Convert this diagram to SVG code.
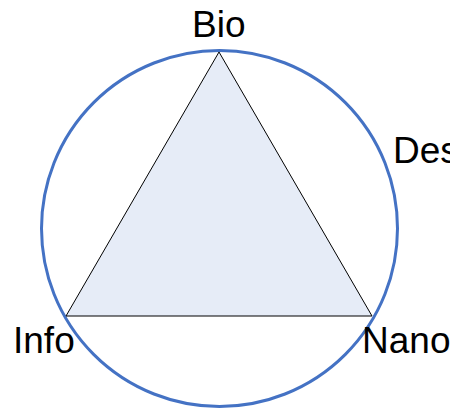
<svg xmlns="http://www.w3.org/2000/svg" width="450" height="408" viewBox="0 0 450 408">
  <style>
    .lbl { font-family: "Liberation Sans", Arial, sans-serif; font-size: 37px; fill: #000; }
    .ring { fill: none; stroke: #4472C4; stroke-width: 3; }
    .tri { fill: #E6ECF7; stroke: #000; stroke-width: 1; }
  </style>
  <rect width="450" height="408" fill="#fff"/>
  <g id="connectors">
    <circle class="ring" cx="219.5" cy="228.5" r="178"/>
  </g>
  <g id="triangle">
    <polygon class="tri" points="219,52 66,316 372,316"/>
  </g>
  <g id="bio"><text class="lbl" x="192" y="37">Bio</text></g>
  <g id="des"><text class="lbl" x="393" y="163">Des</text></g>
  <g id="info"><text class="lbl" x="13" y="353">Info</text></g>
  <g id="nano"><text class="lbl" x="362" y="353">Nano</text></g>
</svg>
